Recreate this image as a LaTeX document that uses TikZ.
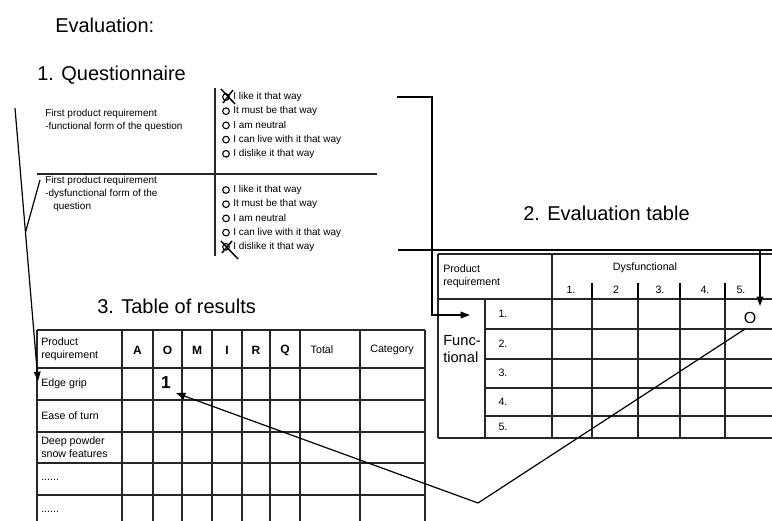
\documentclass[tikz,border=0pt]{standalone}
\usepackage{fontspec}
\setmainfont{Liberation Sans}
\usetikzlibrary{arrows.meta, positioning, calc}

\tikzset{
  title/.style={font=\fontsize{15}{18}\selectfont, anchor=base west, inner sep=0pt},
  small/.style={font=\fontsize{7.5}{9.8}\selectfont, anchor=west, inner sep=0pt, align=left},
  cell/.style={font=\fontsize{8}{9.5}\selectfont, inner sep=0pt, align=left},
  grid/.style={line width=1.1pt, black!85},
  link/.style={line width=0.9pt, -{Triangle[length=7pt,width=5pt]}},
  tick/.style={line width=1pt},
}

\begin{document}
\begin{tikzpicture}[x=0.75pt,y=-0.75pt]
  \useasboundingbox (0,0) rectangle (772,521);

  % titles
  \node[title] (ttl) at (55,32) {Evaluation:};
  \node[title] (tq) at (37,80) {1. Questionnaire};
  \node[title] (te) at (523,220) {2. Evaluation table};
  \node[title] (tr) at (97,313) {3. Table of results};

  % 1. questionnaire
  \draw[grid] (215,88) -- (215,256);
  \draw[grid] (37,174) -- (377,174);
  \node[small] (qfun) at (45,120) {First product requirement\\-functional form of the question};
  \node[small] (qdys) at (45,194) {First product requirement\\-dysfunctional form of the\\\hspace{6pt}question};
  \foreach \t [count=\i] in {I like it that way, It must be that way, I am neutral, I can live with it that way, I dislike it that way} {
    \draw[line width=0.8pt] (226,97+14.2*\i-14.2) circle (2.5pt);
    \node[small] (fo\i) at (233,97+14.2*\i-14.2) {\t};
    \draw[line width=0.8pt] (226,190+14.2*\i-14.2) circle (2.5pt);
    \node[small] (do\i) at (233,190+14.2*\i-14.2) {\t};
  }
  % crosses
  \draw[line width=1.1pt] (221,89) -- (235,104) (233,90) -- (223,103);
  \draw[line width=1.1pt] (221,241) -- (238,259) (232,241) -- (222,253);

  % 3. table of results
  \foreach \x in {37,122,153,182,212,242,270,300,360,425}
    \draw[grid] (\x,330) -- (\x,521);
  \foreach \y in {330,368,400,432,463,495}
    \draw[grid] (37,\y) -- (425,\y);
  \node[cell, anchor=west] (rhead) at (41,349) {Product\\requirement};
  \foreach \c/\xa/\xb in {A/122/153, O/153/182, M/182/212, I/212/242, R/242/270, Q/270/300}
    \node[cell, font=\fontsize{9}{10}\selectfont\bfseries] (r\c) at ({(\xa+\xb)/2},350) {\c};
  \node[cell] (rtot) at (322,350) {Total};
  \node[cell] (rcat) at (392,350) {Category};
  \node[cell, anchor=west] (edge) at (41,384) {Edge grip};
  \node[cell, anchor=west] (ease) at (41,416) {Ease of turn};
  \node[cell, anchor=west] (deep) at (41,447) {Deep powder\\snow features};
  \node[cell, anchor=west] (more1) at (41,480) {......};
  \node[cell, anchor=west] (more2) at (41,512) {......};
  \node[cell, font=\fontsize{13}{14}\selectfont\bfseries] (one) at (166,383) {1};

  % 2. evaluation table
  \draw[grid] (438,254) -- (772,254);
  \draw[grid] (438,254) -- (438,438);
  \draw[grid] (552,254) -- (552,438);
  \draw[grid] (438,299) -- (772,299);
  \draw[grid] (438,438) -- (772,438);
  \draw[grid] (485,299) -- (485,438);
  \foreach \y in {329,359,388,416}
    \draw[grid] (485,\y) -- (772,\y);
  \foreach \x in {592,638,680,725} {
    \draw[grid] (\x,299) -- (\x,438);
    \draw[tick] (\x,283) -- (\x,299);
  }
  \node[cell, anchor=west] (ehead) at (443,276) {Product\\requirement};
  \node[cell] (edys) at (645,268) {Dysfunctional};
  \foreach \n/\x in {1./571, 2/616, 3./660, 4./705, 5./741}
    \node[cell] (d\x) at (\x,290) {\n};
  \node[cell, font=\fontsize{11}{12.5}\selectfont] (func) at (462,349) {Func-\\tional};
  \foreach \n/\y in {1./314, 2./344, 3./373, 4./402, 5./427}
    \node[cell] (f\y) at (503,\y) {\n};
  \node[cell, font=\fontsize{12}{13}\selectfont] (ocell) at (750,318) {O};

  % connectors
  \coordinate (qa) at (397,97);
  \coordinate (fa) at (470,315);
  \draw[link] (qa) -- ++(35,0) |- (fa);
  \coordinate (qb) at (398,250);
  \coordinate (fb) at (760,306);
  \draw[link] (qb) -| (fb);
  \draw[line width=0.9pt] (fb |- qb) -- ++(12,0);
  \coordinate (la) at (15,108);
  \coordinate (lb) at (38,381);
  \draw[link] (la) -- (lb);
  \draw[line width=0.9pt] (40,180) -- ($(la)!0.455!(lb)$);
  \coordinate (oa) at (745,329);
  \coordinate (ov) at (478,503);
  \coordinate (ot) at (176,393);
  \draw[link] (oa) -- (ov) -- (ot);
\end{tikzpicture}
\end{document}
